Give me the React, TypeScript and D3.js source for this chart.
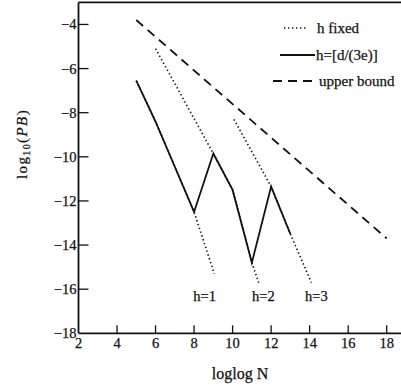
import React from "react";
import * as d3 from "d3";

const xTicks = [2, 4, 6, 8, 10, 12, 14, 16, 18];
const yTicks = [-4, -6, -8, -10, -12, -14, -16, -18];

// solid: h = [d/(3e)]
const solidX = [5, 6, 7, 8, 9, 10, 11, 12, 13];
const solidY = [-6.55, -8.4, -10.45, -12.5, -9.85, -11.5, -14.8, -11.35, -13.5];

// dotted: h fixed
const h1X = [5, 6, 7, 8, 9.05];
const h1Y = [-6.55, -8.4, -10.45, -12.5, -15.3];
const h2X = [6, 9, 10, 11, 11.37];
const h2Y = [-5.1, -9.85, -11.5, -14.8, -15.75];
const h3X = [10.07, 12, 13, 14.09];
const h3Y = [-8.3, -11.35, -13.5, -15.7];

// dashed: upper bound
const upperX = [5, 18];
const upperY = [-3.8, -13.7];

const hLabels = ["h=1", "h=2", "h=3"];
const hLabelX = [8.55, 11.6, 14.35];
const hLabelY = -16.3;

const legendLabels = ["h fixed", "h=[d/(3e)]", "upper bound"];

const FONT = "'Liberation Serif', 'DejaVu Serif', serif";

export default function App() {
  const x = d3.scaleLinear().domain([2, 18]).range([78.5, 386.7]);
  const y = d3.scaleLinear().domain([-18, -3]).range([333.3, 2.4]);
  const line = d3
    .line<[number, number]>()
    .x((d) => x(d[0]))
    .y((d) => y(d[1]));
  const pts = (xs: number[], ys: number[]) =>
    xs.map((v, i) => [v, ys[i]] as [number, number]);

  const left = x(2);
  const bottom = y(-18);
  const top = y(-3);

  const dotted = { stroke: "#111", strokeWidth: 1.6, strokeDasharray: "1.4 2.6", fill: "none" };
  const solid = { stroke: "#111", strokeWidth: 1.8, fill: "none" };
  const dashed = { stroke: "#111", strokeWidth: 1.8, strokeDasharray: "9 6", fill: "none" };

  const legendY = [28, 55, 81];
  const legendSample = [
    [284, 306],
    [280, 315],
    [273, 313],
  ];
  const legendTextX = [317, 316, 319];
  const legendStyles = [dotted, solid, dashed];

  const textStyle = { fontFamily: FONT, fill: "#111", stroke: "#111", strokeWidth: 0.25 };

  return (
    <svg
      width={401}
      height={390}
      style={{ position: "absolute", left: 0, top: 0, background: "#fff" }}
    >
      <rect x={0} y={0} width={401} height={390} fill="#fff" />
      {/* frame */}
      <line x1={left} y1={top} x2={401} y2={top} stroke="#111" strokeWidth={1.6} />
      <line x1={left} y1={top} x2={left} y2={bottom} stroke="#111" strokeWidth={1.8} />
      <line x1={left} y1={bottom} x2={401} y2={bottom} stroke="#111" strokeWidth={1.8} />

      {/* x ticks */}
      {xTicks.map((t) => (
        <g key={"xt" + t}>
          {t !== 2 && (
            <line x1={x(t)} x2={x(t)} y1={bottom} y2={bottom - 8} stroke="#111" strokeWidth={1.3} />
          )}
          <text x={x(t)} y={bottom + 15} textAnchor="middle" fontSize={14.5} {...textStyle}>
            {t}
          </text>
        </g>
      ))}

      {/* y ticks */}
      {yTicks.map((t) => (
        <g key={"yt" + t}>
          {t !== -18 && (
            <line x1={left} x2={left + 10} y1={y(t)} y2={y(t)} stroke="#111" strokeWidth={1.3} />
          )}
          <text x={left - 2} y={y(t) + 5} textAnchor="end" fontSize={14.5} {...textStyle}>
            {"\u2212" + Math.abs(t)}
          </text>
        </g>
      ))}

      {/* series */}
      <path d={line(pts(h1X, h1Y)) || ""} {...dotted} />
      <path d={line(pts(h2X, h2Y)) || ""} {...dotted} />
      <path d={line(pts(h3X, h3Y)) || ""} {...dotted} />
      <path d={line(pts(upperX, upperY)) || ""} {...dashed} />
      <path d={line(pts(solidX, solidY)) || ""} {...solid} strokeLinejoin="miter" />

      {/* h labels */}
      {hLabels.map((l, i) => (
        <text
          key={l}
          x={x(hLabelX[i])}
          y={y(hLabelY) + 5}
          textAnchor="middle"
          fontSize={14.5}
          {...textStyle}
        >
          {l}
        </text>
      ))}

      {/* legend */}
      {legendLabels.map((l, i) => (
        <g key={l}>
          <line
            x1={legendSample[i][0]}
            x2={legendSample[i][1]}
            y1={legendY[i]}
            y2={legendY[i]}
            {...legendStyles[i]}
          />
          <text x={legendTextX[i]} y={legendY[i] + 5} fontSize={15} {...textStyle}>
            {l}
          </text>
        </g>
      ))}

      {/* axis labels */}
      <text x={240} y={379} textAnchor="middle" fontSize={16} {...textStyle}>
        loglog N
      </text>
      <text
        transform="translate(27,144) rotate(-90)"
        textAnchor="middle"
        fontSize={15}
        letterSpacing={1.4}
        {...textStyle}
      >
        log
        <tspan fontSize={10} dy={3}>10</tspan>
        <tspan dy={-3}>(</tspan>
        <tspan fontStyle="italic">PB</tspan>
        <tspan>)</tspan>
      </text>
    </svg>
  );
}
